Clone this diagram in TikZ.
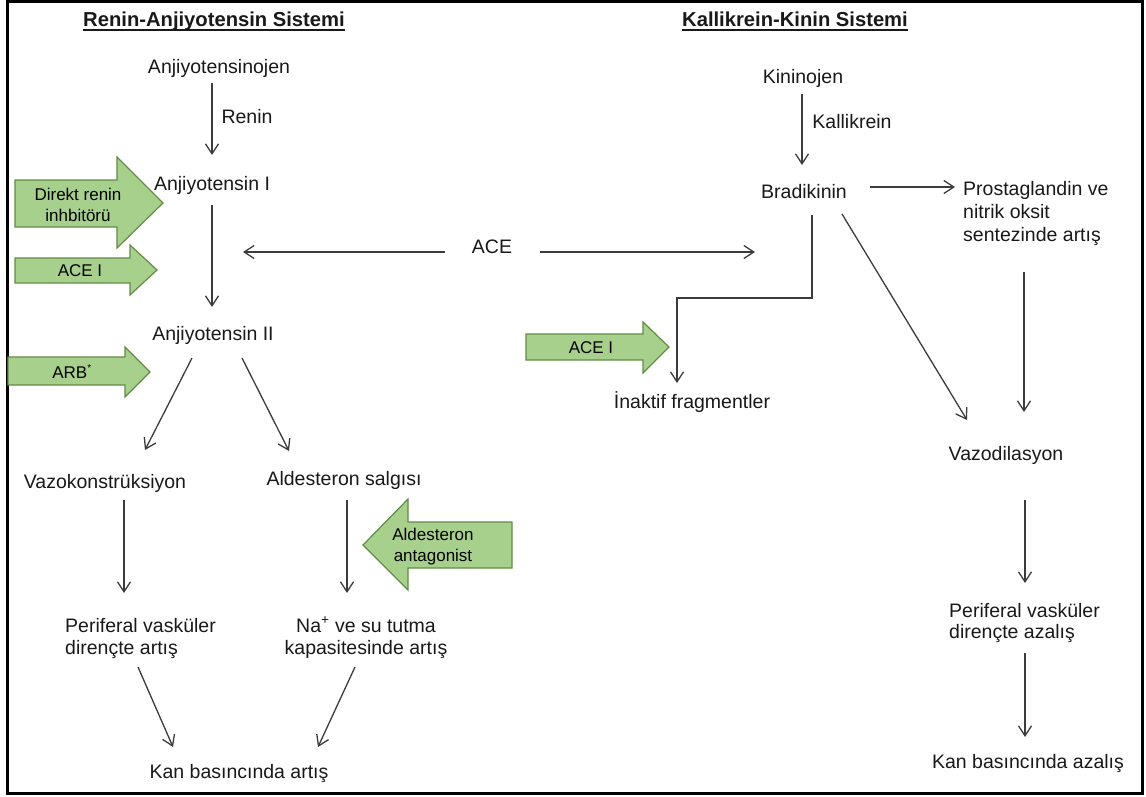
\documentclass[tikz,border=0pt]{standalone}
\usepackage{fontspec}
\setmainfont{Liberation Sans}
\usetikzlibrary{arrows.meta,calc}
\definecolor{gfill}{RGB}{168,208,141}
\definecolor{gline}{RGB}{98,140,70}
\definecolor{ln}{RGB}{60,60,60}
\definecolor{tx}{RGB}{25,25,25}
\newcommand{\bodyfont}{\fontsize{19.5}{22}\selectfont}
\newcommand{\ttlfont}{\fontsize{20.2}{22}\selectfont\bfseries}
\newcommand{\grfont}{\fontsize{17}{21}\selectfont}
\newcommand{\twoL}[2]{\begin{tabular}[t]{@{}l@{}}#1\\#2\end{tabular}}
\newcommand{\twoC}[2]{\begin{tabular}[t]{@{}c@{}}#1\\#2\end{tabular}}
\newcommand{\threeL}[3]{\begin{tabular}[t]{@{}l@{}}#1\\#2\\#3\end{tabular}}
\tikzset{
  txt/.style={inner sep=0pt, font=\bodyfont, text=tx, anchor=base},
  ttl/.style={inner sep=0pt, font=\ttlfont, text=tx, anchor=base},
  gtxt/.style={inner sep=0pt, font=\grfont, text=black, anchor=base},
  garrow/.style={fill=gfill, draw=gline, line width=1.2pt, line join=miter},
  arr/.style={draw=ln, line width=1.3pt, -{Straight Barb[length=10pt,width=13pt]}},
  uline/.style={draw=tx, line width=1.5pt}
}
\begin{document}
\begin{tikzpicture}[x=1pt,y=-1pt]
\fill[white] (0,0) rectangle (1146,796);
\useasboundingbox (0,0) rectangle (1146,796);
\draw[line width=3pt, black] (7.5,1.5) rectangle (1142.5,793);

% titles
\node[ttl] (t1) at (214,26) {Renin-Anjiyotensin Sistemi};
\draw[uline] ($(t1.base west)+(0,4)$) -- ($(t1.base east)+(0,4)$);
\node[ttl] (t2) at (795,26) {Kallikrein-Kinin Sistemi};
\draw[uline] ($(t2.base west)+(0,4)$) -- ($(t2.base east)+(0,4)$);

% green block arrows
\draw[garrow] (15,180) -- (117,180) -- (117,157) -- (163,203) -- (117,248) -- (117,227) -- (15,227) -- cycle;
\draw[garrow] (15,258) -- (130,258) -- (130,245) -- (157,270) -- (130,295) -- (130,283) -- (15,283) -- cycle;
\draw[garrow] (8,357) -- (125,357) -- (125,347) -- (150,372) -- (125,397) -- (125,385) -- (8,385) -- cycle;
\draw[garrow] (512,522) -- (408,522) -- (408,499) -- (363,545) -- (408,590) -- (408,568) -- (512,568) -- cycle;
\draw[garrow] (526,334) -- (643,334) -- (643,322) -- (669,347) -- (643,373) -- (643,360) -- (526,360) -- cycle;

\node[gtxt] (g1) at (78,200) {\twoC{Direkt renin}{inhbitörü}};
\node[gtxt] (g2) at (80,276) {ACE I};
\node[gtxt] (g3) at (72,378) {ARB\textsuperscript{\fontsize{10}{10}\selectfont *}};
\node[gtxt] (g4) at (433,540) {\twoC{Aldesteron}{antagonist}};
\node[gtxt] (g5) at (591,353) {ACE I};

% left system
\node[txt] (anjo) at (219,73) {Anjiyotensinojen};
\node[txt] (renin) at (247,123) {Renin};
\node[txt] (anj1) at (212,190) {Anjiyotensin I};
\node[txt] (ace) at (492,253) {ACE};
\node[txt] (anj2) at (213,340) {Anjiyotensin II};
\node[txt] (vazo) at (105,488) {Vazokonstrüksiyon};
\node[txt] (aldo) at (344,485) {Aldesteron salgısı};
\node[txt, anchor=base west] (peri1) at (65,632) {\twoL{Periferal vasküler}{dirençte artış}};
\node[txt] (na) at (366,632) {\twoC{Na\textsuperscript{+} ve su tutma}{kapasitesinde artış}};
\node[txt] (kan1) at (239,778) {Kan basıncında artış};

% right system
\node[txt] (kinin) at (803,83) {Kininojen};
\node[txt] (kall) at (852,128) {Kallikrein};
\node[txt] (bradi) at (804,198) {Bradikinin};
\node[txt, anchor=base west, font=\fontsize{19.5}{23}\selectfont] (prost) at (963,195) {\threeL{Prostaglandin ve}{nitrik oksit}{sentezinde artış}};
\node[txt] (inak) at (692,408) {İnaktif fragmentler};
\node[txt] (vazod) at (1006,460) {Vazodilasyon};
\node[txt, anchor=base west, font=\fontsize{19.5}{21.5}\selectfont] (peri2) at (949,617) {\twoL{Periferal vasküler}{dirençte azalış}};
\node[txt] (kan2) at (1028,768) {Kan basıncında azalış};

% connectors left
\coordinate (aceL) at (243,252);
\coordinate (aceR) at (755,252);
\draw[arr] ($(anjo.base -| anj1.base)+(0,10)$) -- ($(anj1.base)+(0,-35)$);
\draw[arr] ($(anj1.base)+(0,15)$) -- ($(anj2.base)+(-1,-33)$);
\draw[arr] ($(ace.base west)+(-27,-1)$) -- (aceL);
\draw[arr] ($(ace.base east)+(28,-1)$) -- (aceR);
\draw[arr] ($(anj2.base)+(-21,18)$) -- ($(vazo.base)+(40,-38)$);
\draw[arr] ($(anj2.base)+(29,18)$) -- ($(aldo.base)+(-55,-34)$);
\draw[arr] ($(vazo.base)+(19,12)$) -- ($(peri1.base west)+(59,-39)$);
\draw[arr] ($(aldo.base)+(3,15)$) -- ($(na.base)+(-19,-39)$);
\draw[arr] ($(peri1.base west)+(73,35)$) -- ($(kan1.base)+(-66,-31)$);
\draw[arr] ($(na.base)+(-11,35)$) -- ($(kan1.base)+(79,-31)$);

% connectors right
\draw[arr] ($(kinin.base)+(-1,11)$) -- ($(bradi.base)+(-2,-33)$);
\draw[arr] ($(bradi.base east)+(23,-11)$) -- ($(prost.base west)+(-8,-8)$);
\draw[arr] ($(bradi.base)+(8,17)$) -- ++(0,83) -| ($(inak.base)+(-15,-25)$);
\draw[arr] ($(bradi.base)+(38,16)$) -- ($(vazod.base)+(-39,-40)$);
\draw[arr] ($(prost.base west)+(61,77)$) -- ($(vazod.base)+(18,-48)$);
\draw[arr] ($(vazod.base)+(19,40)$) -- ($(peri2.base west)+(76,-34)$);
\draw[arr] ($(peri2.base west)+(76,36)$) -- ($(kan2.base)+(-3,-31)$);
\end{tikzpicture}
\end{document}
